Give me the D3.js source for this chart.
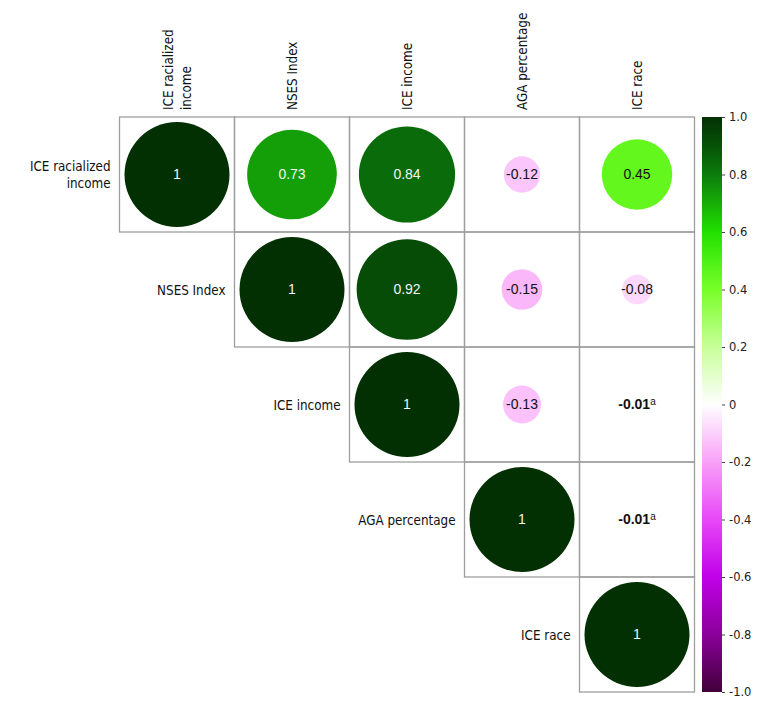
<!DOCTYPE html>
<html>
<head>
<meta charset="utf-8">
<script src="https://d3js.org/d3.v7.min.js"></script>
<style>
  body { margin: 0; background: #fff; }
  .lab { font-family: "DejaVu Sans Condensed", "Liberation Sans Narrow", sans-serif; font-size: 13.3px; fill: #111; }
  .val { font-family: "Liberation Sans", Arial, sans-serif; font-size: 14px; }
  .cb text { font-family: "DejaVu Sans", sans-serif; font-size: 11.5px; fill: #222; }
</style>
</head>
<body>
<div id="chart"></div>
<script>
// variables in matrix order
var variables = ["ICE racialized income", "NSES Index", "ICE income", "AGA percentage", "ICE race"];
var labelLines = [["ICE racialized", "income"], ["NSES Index"], ["ICE income"], ["AGA percentage"], ["ICE race"]];

// upper triangle of the correlation matrix, one row per variable
var rowICERacInc = [1, 0.73, 0.84, -0.12, 0.45];
var rowNSES      = [null, 1, 0.92, -0.15, -0.08];
var rowICEInc    = [null, null, 1, -0.13, -0.01];
var rowAGA       = [null, null, null, 1, -0.01];
var rowICERace   = [null, null, null, null, 1];
var corr = [rowICERacInc, rowNSES, rowICEInc, rowAGA, rowICERace];

// cells with footnote "a" (not significant), given as [row, col]
var footnoted = [[2, 4], [3, 4]];

// colour bar ticks
var cbTicks = [1, 0.8, 0.6, 0.4, 0.2, 0, -0.2, -0.4, -0.6, -0.8, -1];

var W = 780, H = 715;
var svg = d3.select("#chart").append("svg")
    .attr("width", W)
    .attr("height", H);

var x = d3.scaleBand().domain(variables).range([119.5, 694.5]);
var y = d3.scaleBand().domain(variables).range([117, 692]);
var bw = x.bandwidth();

var color = d3.scaleLinear()
    .domain([-1, -0.8, -0.6, -0.4, -0.2, 0, 0.2, 0.4, 0.6, 0.8, 0.9, 1])
    .range(["#40003a", "#8a009a", "#c000e8", "#e848f8", "#f8a0f8", "#ffffff",
            "#c8ff98", "#78ff28", "#22e000", "#0c7c0c", "#075207", "#033003"])
    .interpolate(d3.interpolateRgb);

var radius = d3.scaleSqrt().domain([0, 1]).range([0, 52.5]);

// flatten into cells
var cells = [];
corr.forEach(function(row, i) {
    row.forEach(function(v, j) {
        if (v !== null) cells.push({i: i, j: j, v: v});
    });
});
function isFoot(d) {
    return footnoted.some(function(f) { return f[0] === d.i && f[1] === d.j; });
}

var g = svg.selectAll("g.cell")
    .data(cells)
    .enter().append("g")
    .attr("class", "cell")
    .attr("transform", function(d) {
        return "translate(" + x(variables[d.j]) + "," + y(variables[d.i]) + ")";
    });

g.append("rect")
    .attr("width", bw)
    .attr("height", bw)
    .attr("fill", "none")
    .attr("stroke", "#9e9e9e")
    .attr("stroke-width", 1.3);

g.filter(function(d) { return !isFoot(d); })
    .append("circle")
    .attr("cx", bw / 2)
    .attr("cy", bw / 2)
    .attr("r", function(d) { return radius(Math.abs(d.v)); })
    .attr("fill", function(d) { return color(d.v); });

var vt = g.append("text")
    .attr("class", "val")
    .attr("x", bw / 2)
    .attr("y", bw / 2)
    .attr("dy", "0.35em")
    .attr("text-anchor", "middle")
    .attr("fill", function(d) { return d.v > 0.55 ? "#f4f4f4" : "#111"; })
    .attr("font-weight", function(d) { return isFoot(d) ? "bold" : "normal"; });
vt.append("tspan")
    .text(function(d) { return d.v === 1 ? "1" : d.v.toFixed(2).replace("-", "\u2011"); });
vt.filter(isFoot).append("tspan")
    .attr("dy", "-0.45em")
    .attr("font-size", "10px")
    .attr("font-weight", "normal")
    .text("a");

// row labels
variables.forEach(function(v, i) {
    var lines = labelLines[i];
    var t = svg.append("text")
        .attr("class", "lab")
        .attr("text-anchor", "end")
        .attr("dominant-baseline", "central");
    lines.forEach(function(l, k) {
        t.append("tspan")
            .attr("x", x(v) - 9)
            .attr("y", y(v) + bw / 2 + (k - (lines.length - 1) / 2) * 17)
            .text(l);
    });
});

// column labels
variables.forEach(function(v, j) {
    var lines = labelLines[j];
    var cx = x(v) + bw / 2;
    var t = svg.append("text")
        .attr("class", "lab")
        .attr("transform", "translate(" + cx + ",110) rotate(-90)")
        .attr("dominant-baseline", "central");
    lines.forEach(function(l, k) {
        t.append("tspan")
            .attr("x", 0)
            .attr("y", (k - (lines.length - 1) / 2) * 18)
            .text(l);
    });
});

// colour bar
var cbX = 702, cbW = 20;
var cbScale = d3.scaleLinear().domain([-1, 1]).range([692, 117]);

var grad = svg.append("defs").append("linearGradient")
    .attr("id", "cbgrad")
    .attr("x1", 0).attr("y1", 1).attr("x2", 0).attr("y2", 0);
d3.range(-1, 1.0001, 0.05).forEach(function(t) {
    grad.append("stop")
        .attr("offset", ((t + 1) / 2 * 100) + "%")
        .attr("stop-color", color(t));
});

svg.append("rect")
    .attr("x", cbX)
    .attr("y", 117)
    .attr("width", cbW)
    .attr("height", 575)
    .attr("fill", "url(#cbgrad)");

var cbAxis = svg.append("g")
    .attr("class", "cb")
    .attr("transform", "translate(" + (cbX + cbW) + ",0)")
    .call(d3.axisRight(cbScale)
        .tickValues(cbTicks)
        .tickSize(3)
        .tickPadding(4)
        .tickFormat(function(d) { return d === 0 ? "0" : d.toFixed(1); }));
cbAxis.select(".domain").remove();
cbAxis.selectAll(".tick line").attr("stroke", "#444");
</script>
</body>
</html>
